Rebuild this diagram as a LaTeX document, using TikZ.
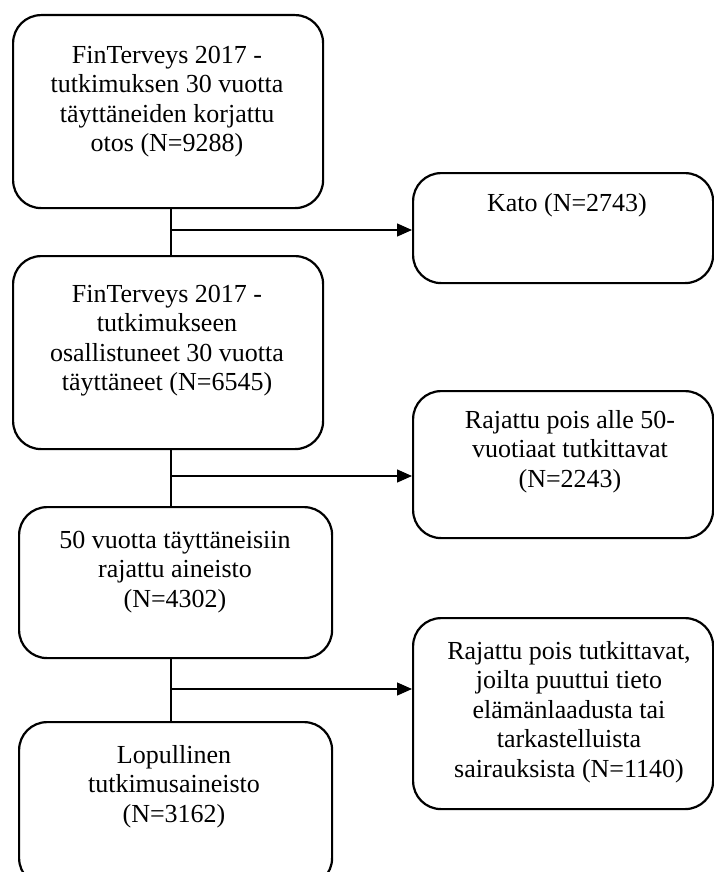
\documentclass[tikz,border=0pt]{standalone}
\usepackage{fontspec}
\setmainfont{Liberation Serif}
\usetikzlibrary{arrows.meta}
\begin{document}
\begin{tikzpicture}[x=1pt,y=-1pt,
  box/.style={draw, line width=2.2pt, rounded corners=28pt, anchor=north west, inner sep=0pt},
  lbl/.style={anchor=north, inner sep=0pt, align=center, font=\fontsize{26}{29.5}\selectfont},
  link/.style={line width=1.3pt},
  arr/.style={line width=1.3pt, -{Triangle[length=15pt,width=13pt]}}]
\useasboundingbox (0,0) rectangle (714,872);
% left column
\node[box, minimum width=310pt, minimum height=193pt] (A) at (12,14) {};
\node[box, minimum width=310pt, minimum height=193pt] (B) at (12,255) {};
\node[box, minimum width=313pt, minimum height=151pt] (C) at (18,506) {};
\node[box, minimum width=313pt, minimum height=164pt] (D) at (18,721) {};
% right column
\node[box, minimum width=300pt, minimum height=110pt] (R1) at (412,172) {};
\node[box, minimum width=300pt, minimum height=147pt] (R2) at (412,390) {};
\node[box, minimum width=300pt, minimum height=191pt] (R3) at (412,617) {};
% texts
\node[lbl] (tA) at (167,46) {FinTerveys 2017 -\\tutkimuksen 30 vuotta\\täyttäneiden korjattu\\otos (N=9288)};
\node[lbl] (tB) at (167,285) {FinTerveys 2017 -\\tutkimukseen\\osallistuneet 30 vuotta\\täyttäneet (N=6545)};
\node[lbl] (tC) at (175,531) {50 vuotta täyttäneisiin\\rajattu aineisto\\(N=4302)};
\node[lbl] (tD) at (174,745) {Lopullinen\\tutkimusaineisto\\(N=3162)};
\node[lbl] (tR1) at (567,193) {Kato (N=2743)};
\node[lbl] (tR2) at (570,410) {Rajattu pois alle 50-\\vuotiaat tutkittavat\\(N=2243)};
\node[lbl] (tR3) at (569,641) {Rajattu pois tutkittavat,\\joilta puuttui tieto\\elämänlaadusta tai\\tarkastelluista\\sairauksista (N=1140)};
% trunk coordinates
\coordinate (t) at (171,0);
\coordinate (j1) at (171,230);
\coordinate (j2) at (171,476);
\coordinate (j3) at (171,689);
% connectors
\draw[link] (A.south -| t) -- (B.north -| t);
\draw[link] (B.south -| t) -- (C.north -| t);
\draw[link] (C.south -| t) -- (D.north -| t);
\draw[arr] (j1) -- (j1 -| R1.west);
\draw[arr] (j2) -- (j2 -| R2.west);
\draw[arr] (j3) -- (j3 -| R3.west);
\end{tikzpicture}
\end{document}
